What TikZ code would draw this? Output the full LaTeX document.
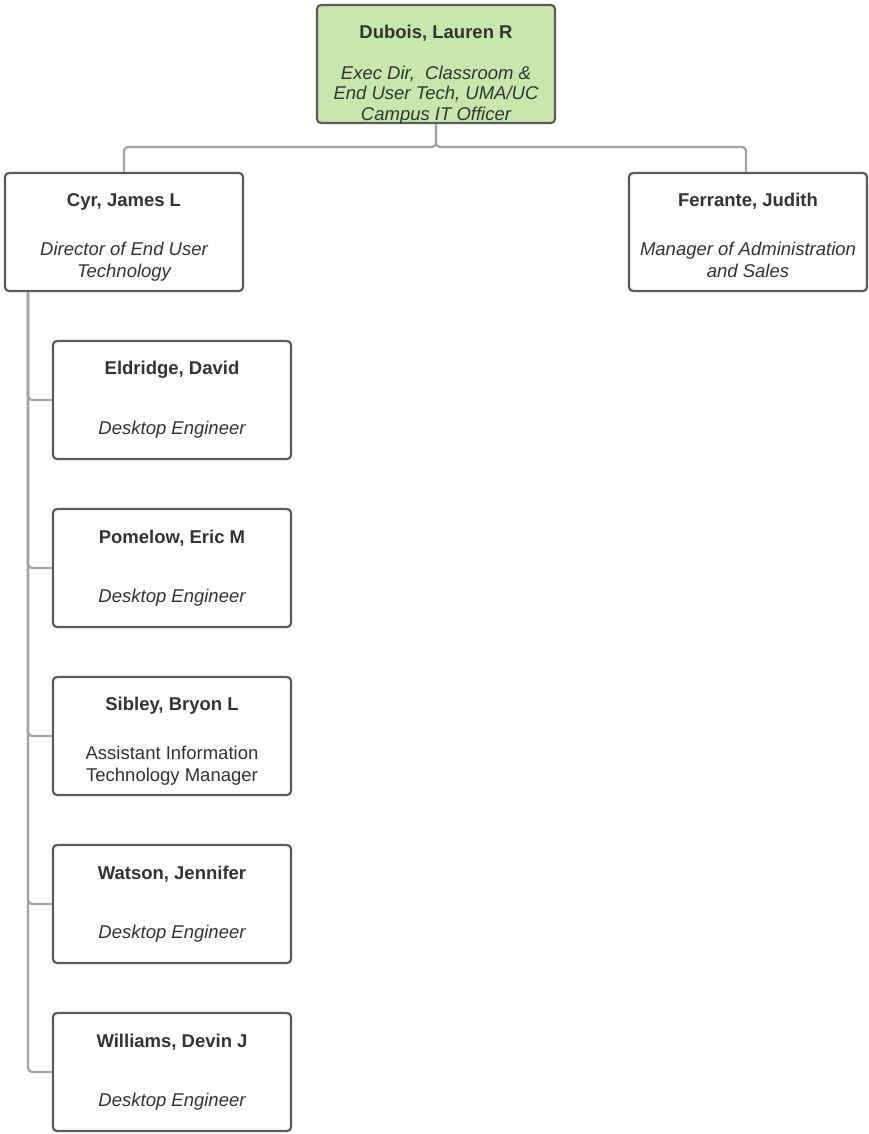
\documentclass[tikz,border=0pt]{standalone}
\usepackage{fontspec}
\setmainfont{Liberation Sans}
\definecolor{boxline}{HTML}{5A5A5A}
\definecolor{conn}{HTML}{A3A3A3}
\definecolor{topfill}{HTML}{C7E7AD}
\definecolor{txt}{HTML}{333333}
\begin{document}
\begin{tikzpicture}[x=1pt,y=-1pt,
  person/.style={draw=boxline, line width=2.2pt, rounded corners=4pt, minimum width=238pt, minimum height=118pt, fill=white, inner sep=0pt},
  nametext/.style={font=\fontsize{18.5}{22}\selectfont\bfseries, text=txt, align=center, inner sep=0pt},
  roletext/.style={font=\fontsize{18.5}{22}\selectfont\itshape, text=txt, align=center, inner sep=0pt},
  uprole/.style={font=\fontsize{18.5}{22}\selectfont, text=txt, align=center, inner sep=0pt},
  link/.style={draw=conn, line width=2.2pt, rounded corners=4pt}]
\useasboundingbox (0,0) rectangle (869,1134);
% connector helpers
\coordinate (junction) at (436,147);
\coordinate (spine) at (28,292);
% boxes
\node[person, fill=topfill] (dubois) at (436,64) {};
\node[person] (cyr) at (124,232) {};
\node[person] (ferrante) at (748,232) {};
\node[person] (eldridge) at (172,400) {};
\node[person] (pomelow) at (172,568) {};
\node[person] (sibley) at (172,736) {};
\node[person] (watson) at (172,904) {};
\node[person] (williams) at (172,1072) {};
% connectors
\draw[link] (dubois.south) -- (junction) -| (cyr.north);
\draw[link] (dubois.south) -- (junction) -| ([xshift=-2pt]ferrante.north);
\draw[link] (spine) |- (eldridge.west);
\draw[link] (spine) |- (pomelow.west);
\draw[link] (spine) |- (sibley.west);
\draw[link] (spine) |- (watson.west);
\draw[link] (spine) |- (williams.west);
% texts
\node[nametext] (duboisname) at ([yshift=-29pt]dubois.north) {Dubois, Lauren R};
\node[roletext, font=\fontsize{18.5}{20.5}\selectfont\itshape] (duboisrole) at ([yshift=-91pt]dubois.north) {Exec Dir,\ \ Classroom \&\\End User Tech, UMA/UC\\Campus IT Officer};
\node[nametext] (cyrname) at ([yshift=-30pt]cyr.north) {Cyr, James L};
\node[roletext] (cyrrole) at ([yshift=-90pt]cyr.north) {Director of End User\\Technology};
\node[nametext] (ferrantename) at ([yshift=-29pt]ferrante.north) {Ferrante, Judith};
\node[roletext] (ferranterole) at ([yshift=-88pt]ferrante.north) {Manager of Administration\\and Sales};
\node[nametext] (eldridgename) at ([yshift=-30pt]eldridge.north) {Eldridge, David};
\node[roletext] (eldridgerole) at ([yshift=-90pt]eldridge.north) {Desktop Engineer};
\node[nametext] (pomelowname) at ([yshift=-30pt]pomelow.north) {Pomelow, Eric M};
\node[roletext] (pomelowrole) at ([yshift=-90pt]pomelow.north) {Desktop Engineer};
\node[nametext] (sibleyname) at ([yshift=-30pt]sibley.north) {Sibley, Bryon L};
\node[uprole] (sibleyrole) at ([yshift=-90pt]sibley.north) {Assistant Information\\Technology Manager};
\node[nametext] (watsonname) at ([yshift=-30pt]watson.north) {Watson, Jennifer};
\node[roletext] (watsonrole) at ([yshift=-90pt]watson.north) {Desktop Engineer};
\node[nametext] (williamsname) at ([yshift=-30pt]williams.north) {Williams, Devin J};
\node[roletext] (williamsrole) at ([yshift=-90pt]williams.north) {Desktop Engineer};
\end{tikzpicture}
\end{document}
